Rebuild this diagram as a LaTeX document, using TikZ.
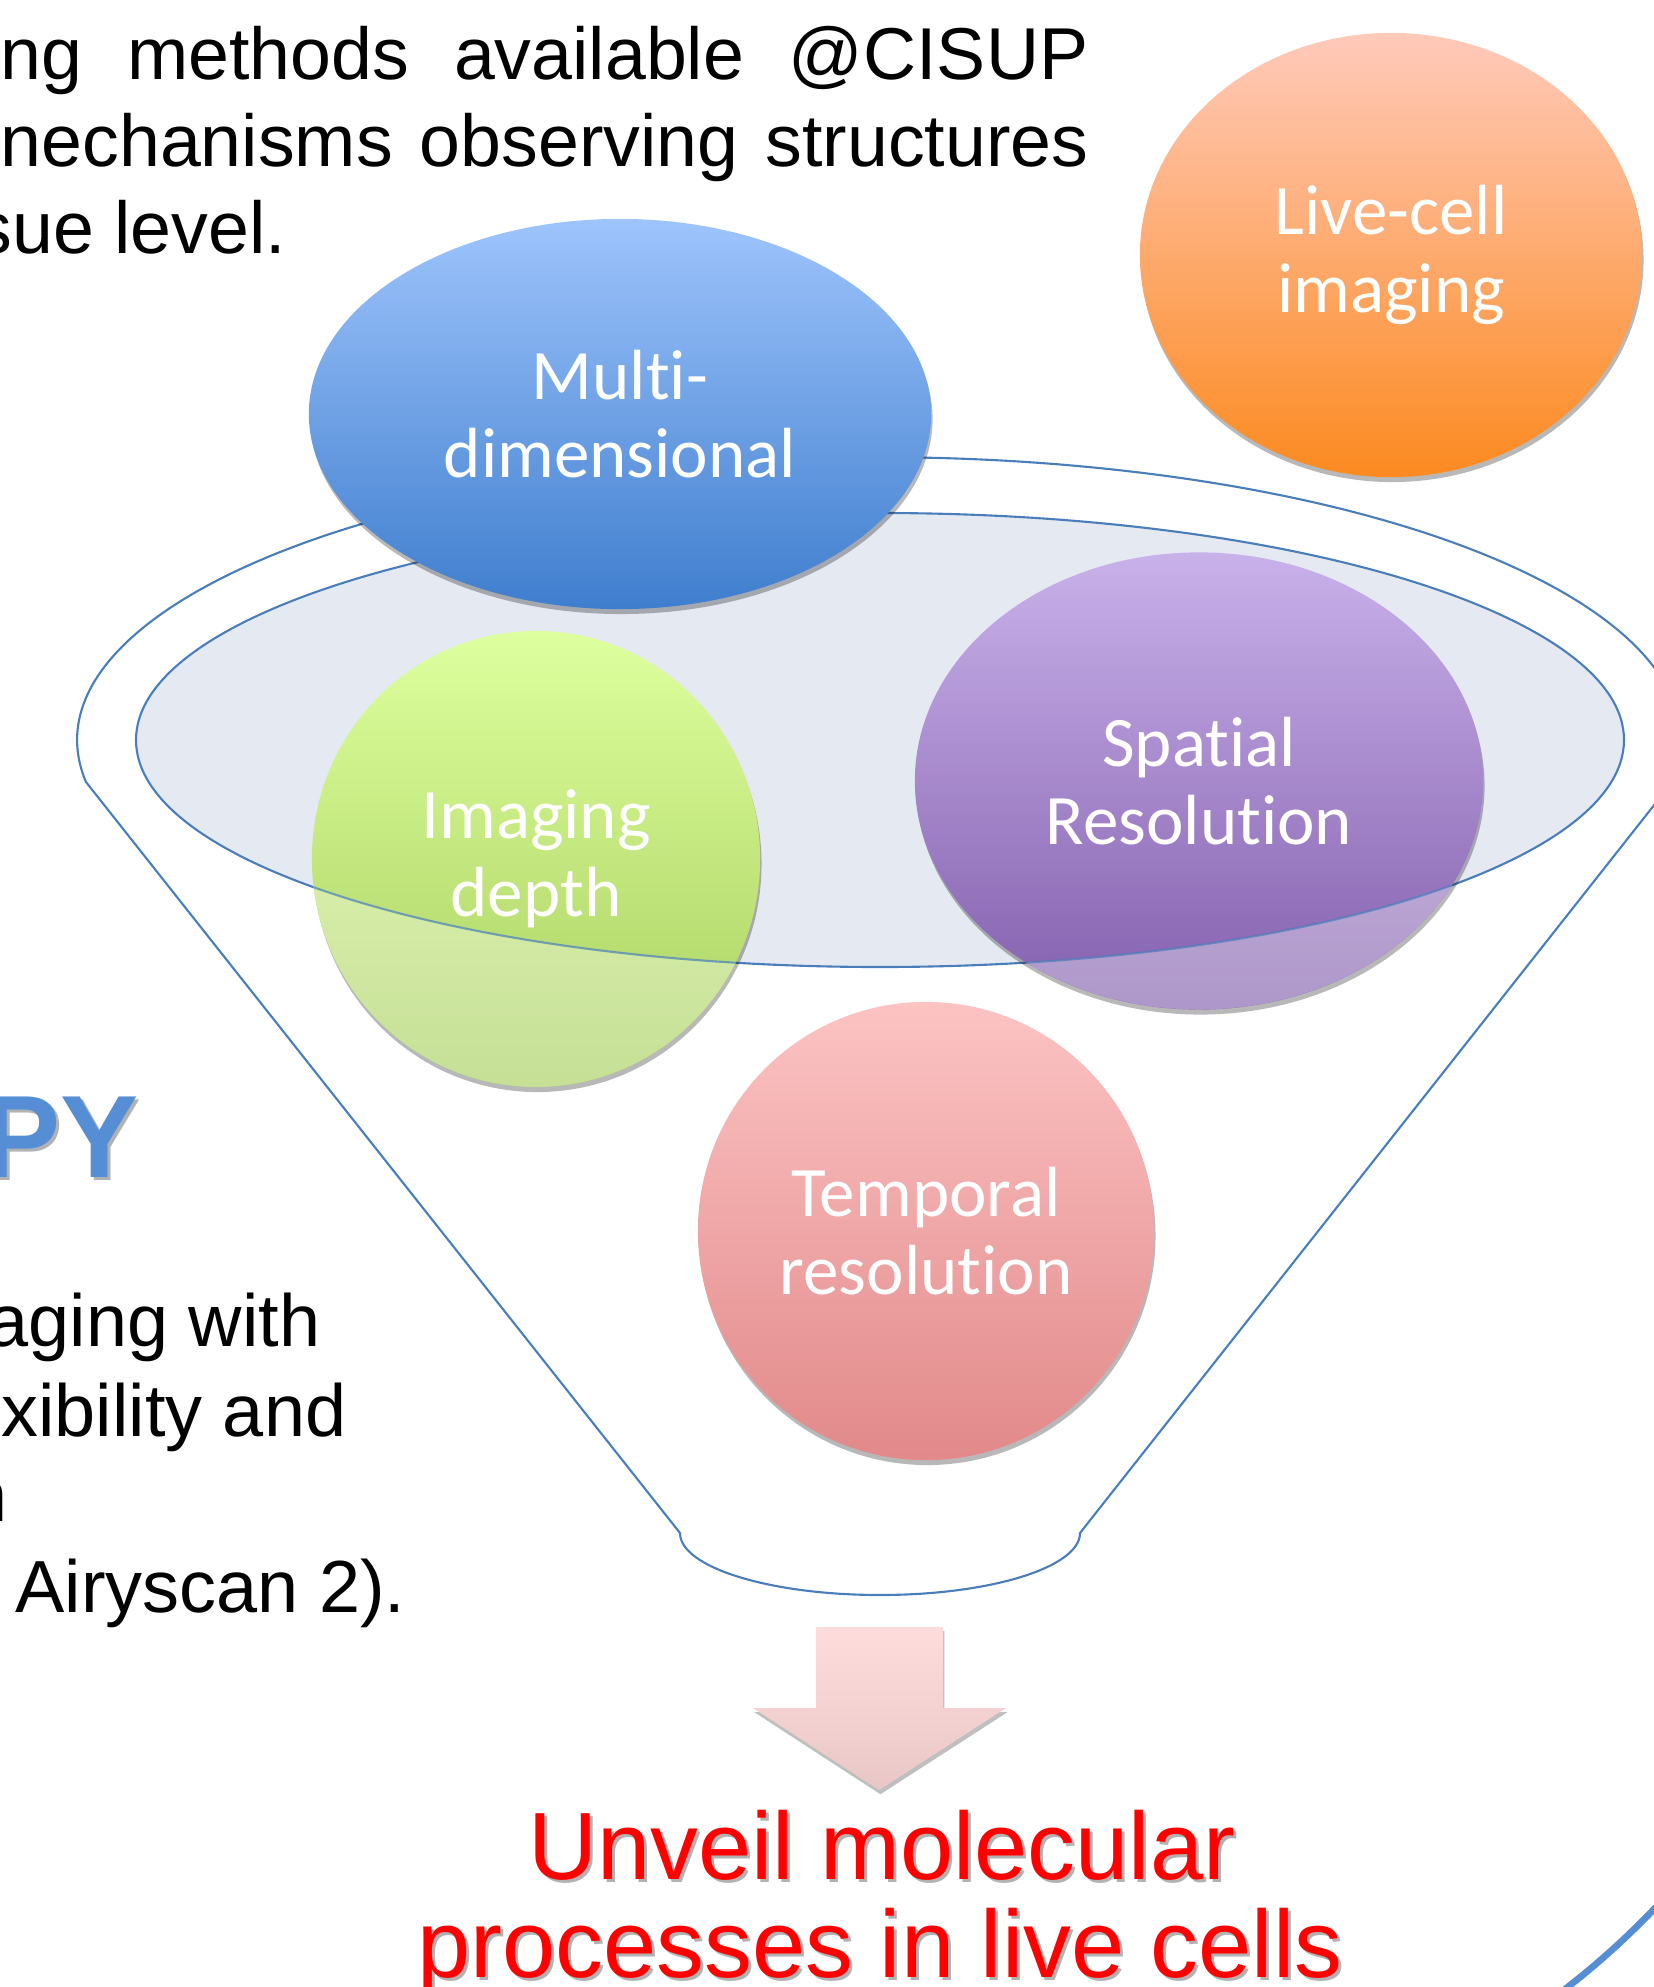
\documentclass[tikz,border=0pt]{standalone}
\usepackage{fontspec}
\setmainfont{Liberation Sans}
\newfontfamily\bubblefont[Ligatures={NoCommon}]{Carlito}
\usetikzlibrary{shapes.geometric,shadows}

\definecolor{funnelline}{HTML}{4A7EBB}
\definecolor{rimfill}{HTML}{E4E9F2}
\definecolor{livetop}{HTML}{FFCABB}
\definecolor{livebot}{HTML}{FC8A20}
\definecolor{multitop}{HTML}{9EC4FC}
\definecolor{multibot}{HTML}{3F7ECE}
\definecolor{greentop}{HTML}{DEFF9E}
\definecolor{greenbot}{HTML}{A8CF5E}
\definecolor{purptop}{HTML}{C9B1EA}
\definecolor{purpbot}{HTML}{835FAD}
\definecolor{pinktop}{HTML}{FCC3C3}
\definecolor{pinkbot}{HTML}{E2898A}
\definecolor{arrowtop}{HTML}{FEDCDC}
\definecolor{arrowbot}{HTML}{E9C7C7}
\definecolor{titleblue}{HTML}{558ED5}
\definecolor{goalred}{HTML}{FF0000}

\begin{document}
\begin{tikzpicture}[x=0.01cm, y=-0.01cm,
  rimline/.style={draw=funnelline, line width=0.6pt},
  bubble/.style={ellipse, inner sep=0pt, align=center, text=white,
    font=\bubblefont\fontsize{20.2pt}{22.2pt}\selectfont,
    drop shadow={shadow xshift=0.4pt, shadow yshift=-1.4pt, opacity=0.28, fill=black}},
  bodytext/.style={inner sep=0pt, font=\fontsize{20.9pt}{25pt}\selectfont},
  sidetext/.style={inner sep=0pt, font=\fontsize{21pt}{25pt}\selectfont},
  goaltext/.style={inner sep=0pt, text=goalred, font=\fontsize{27.2pt}{28pt}\selectfont},
  goalshadow/.style={inner sep=0pt, text=black, opacity=0.3, font=\fontsize{27.2pt}{28pt}\selectfont},
  titletext/.style={inner sep=0pt, text=titleblue, font=\bfseries\fontsize{33.3pt}{36pt}\selectfont},
  titleshadow/.style={inner sep=0pt, text=black, opacity=0.3, font=\bfseries\fontsize{33.3pt}{36pt}\selectfont}
]
\useasboundingbox (0,0) rectangle (1654,1987);
\clip (0,0) rectangle (1654,1987);

% paragraph text, cut by the page edge
\node[bodytext, anchor=base west] (top1) at (0,79) {\makebox[10.87cm][s]{ng methods available @CISUP}};
\node[bodytext, anchor=base west] (top2) at (0,166) {\makebox[10.87cm][s]{nechanisms observing structures}};
\node[bodytext, anchor=base east] (top3) at (287,253) {sue level.};

\node[titleshadow, anchor=base east] (pyshade) at (142,1180) {PY};
\node[titletext, anchor=base east] (py) at (139,1177) {PY};

\node[sidetext, anchor=base east] (side1) at (321,1346) {aging with};
\node[sidetext, anchor=base east] (side2) at (347,1436) {xibility and};
\node[sidetext, anchor=base east] (side3) at (8,1521) {n};
\node[sidetext, anchor=base west] (side4) at (15,1612) {Airyscan 2).};

% funnel body
\draw[rimline] (680,1533) -- (86,782)
  arc[start angle=171.5, end angle=368.5, x radius=802, y radius=283]
  -- (1080,1533)
  arc[start angle=0, end angle=180, x radius=200, y radius=62] -- cycle;
\filldraw[fill=rimfill, rimline] (880,740) ellipse [x radius=744, y radius=227];

% bubbles
\node[bubble, minimum width=5.02cm, minimum height=4.44cm, top color=livetop, bottom color=livebot]
  (live) at (1391,255) {Live-cell\\imaging};
\node[bubble, minimum width=6.22cm, minimum height=3.90cm, top color=multitop, bottom color=multibot]
  (multi) at (620,414) {Multi-\\dimensional};

\node[bubble, minimum width=4.48cm, minimum height=4.56cm, top color=greentop, bottom color=greenbot]
  (depth) at (536,859) {Imaging\\depth};
\begin{scope}
  \clip (536,859) ellipse [x radius=224, y radius=228];
  \fill[white, fill opacity=0.35, even odd rule] (0,0) rectangle (1654,1987)
    (880,740) ellipse [x radius=744, y radius=227];
  \draw[rimline, draw opacity=0.7] (880,740) ellipse [x radius=744, y radius=227];
\end{scope}

\node[bubble, minimum width=5.68cm, minimum height=4.57cm, top color=purptop, bottom color=purpbot]
  (spatial) at (1199,781) {Spatial\\Resolution};
\begin{scope}
  \clip (1199,781) ellipse [x radius=284, y radius=228.5];
  \fill[white, fill opacity=0.35, even odd rule] (0,0) rectangle (1654,1987)
    (880,740) ellipse [x radius=744, y radius=227];
  \draw[rimline, draw opacity=0.7] (880,740) ellipse [x radius=744, y radius=227];
\end{scope}

\node[bubble, minimum width=4.56cm, minimum height=4.58cm, top color=pinktop, bottom color=pinkbot]
  (temporal) at (926,1231) {Temporal\\resolution};

% outcome arrow
\shade[top color=arrowtop, bottom color=arrowbot,
  drop shadow={shadow xshift=0.4pt, shadow yshift=-1.2pt, opacity=0.25, fill=black}]
  (816,1627) -- (943,1627) -- (943,1708) -- (1006,1708) -- (879,1790)
  -- (753,1708) -- (816,1708) -- cycle;

\node[goalshadow, anchor=base] (goal1s) at (885,1882) {Unveil molecular};
\node[goaltext, anchor=base] (goal1) at (882,1879) {Unveil molecular};
\node[goalshadow, anchor=base] (goal2s) at (883,1980) {processes in live cells};
\node[goaltext, anchor=base] (goal2) at (880,1977) {processes in live cells};

% frame arc in the corner
\draw[titleblue, line width=1.9pt] (1076,1356) ++(36:800)
  arc[start angle=36, end angle=60, radius=800];
\end{tikzpicture}
\end{document}
